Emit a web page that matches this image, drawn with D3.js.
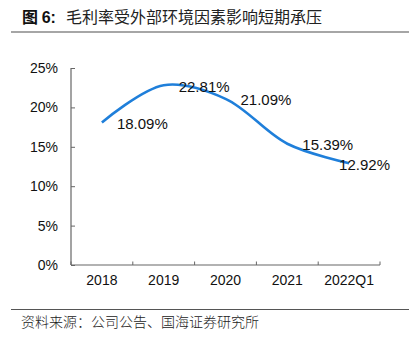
<!DOCTYPE html>
<html>
<head>
<meta charset="utf-8">
<script src="https://cdn.jsdelivr.net/npm/d3@7"></script>
<style>
  html, body { margin: 0; padding: 0; background: #fff; }
  svg { display: block; }
</style>
</head>
<body>
<svg id="chart" width="414" height="341"></svg>
<script>
// Gross margin by period
const periods = ["2018", "2019", "2020", "2021", "2022Q1"];
const grossMargin = [18.09, 22.81, 21.09, 15.39, 12.92];
const yTicks = [0, 5, 10, 15, 20, 25];

const titleTag = "图 6:";
const titleText = "毛利率受外部环境因素影响短期承压";
const sourceText = "资料来源：公司公告、国海证券研究所";

const svg = d3.select("#chart");
const latin = "Arial, 'Liberation Sans', Helvetica, sans-serif";
const cjk = "'Noto Sans CJK SC', sans-serif";

// -- Header and footer -- //
const title = svg.append("text")
  .attr("x", 22)
  .attr("y", 23)
  .attr("font-size", 16)
  .attr("fill", "#111");
title.append("tspan")
  .attr("font-family", cjk)
  .attr("font-weight", "bold")
  .text(titleTag.split(" ")[0] + " ");
title.append("tspan")
  .attr("font-family", latin)
  .attr("font-weight", "bold")
  .text(titleTag.split(" ")[1]);
title.append("tspan")
  .attr("dx", 10)
  .attr("font-family", cjk)
  .attr("fill", "#222")
  .text(titleText);

svg.append("line")
  .attr("x1", 11).attr("x2", 409)
  .attr("y1", 32).attr("y2", 32)
  .attr("stroke", "#888").attr("stroke-width", 1.5);

svg.append("line")
  .attr("x1", 11).attr("x2", 409)
  .attr("y1", 309.5).attr("y2", 309.5)
  .attr("stroke", "#555").attr("stroke-width", 1);

svg.append("text")
  .attr("x", 21)
  .attr("y", 327)
  .attr("font-family", cjk)
  .attr("font-size", 14)
  .attr("font-weight", 300)
  .attr("fill", "#222")
  .text(sourceText);

// -- Scales -- //
const plot = { left: 71, right: 380, top: 68, bottom: 265 };

const x = d3.scaleBand()
  .domain(periods)
  .range([plot.left, plot.right]);

const y = d3.scaleLinear()
  .domain([0, 25])
  .range([plot.bottom, plot.top]);

// -- Axes -- //
const axisColour = "#666";

const yAxis = svg.append("g")
  .attr("transform", `translate(${plot.left},0)`)
  .call(d3.axisLeft(y)
    .tickValues(yTicks)
    .tickSize(-4)
    .tickPadding(13)
    .tickFormat(d => d + "%"));

const xAxis = svg.append("g")
  .attr("transform", `translate(0,${plot.bottom})`)
  .call(d3.axisBottom(x).tickSize(0).tickPadding(10));

// x tick marks sit on the band edges
xAxis.selectAll(".edge")
  .data(periods.map(p => x(p)).concat([plot.right]))
  .join("line")
  .attr("class", "edge")
  .attr("x1", d => d).attr("x2", d => d)
  .attr("y1", 0).attr("y2", -3.5)
  .attr("stroke", axisColour);

[yAxis, xAxis].forEach(g => {
  g.select(".domain").attr("stroke", axisColour).attr("stroke-width", 1.2);
  g.selectAll(".tick line").attr("stroke", axisColour);
  g.selectAll("text")
    .attr("font-family", latin)
    .attr("font-size", 14)
    .attr("fill", "#111");
});
yAxis.select(".domain").attr("d", `M0,${plot.top}V${plot.bottom}`);
xAxis.select(".domain").attr("d", `M${plot.left},0H${plot.right}`);

// -- Smoothed line -- //
const cx = d => x(d) + x.bandwidth() / 2;

const line = d3.line()
  .x((d, i) => cx(periods[i]))
  .y(d => y(d))
  .curve(d3.curveCatmullRom.alpha(0.5));

svg.append("path")
  .datum(grossMargin)
  .attr("d", line)
  .attr("fill", "none")
  .attr("stroke", "#1f7fda")
  .attr("stroke-width", 2.6);

// -- Value labels, right of each point (last one pulled back inside) -- //
function labelDx(i) {
  return i === grossMargin.length - 1 ? -10 : 15;
}

svg.append("g").selectAll("text")
  .data(grossMargin)
  .join("text")
  .attr("x", (d, i) => cx(periods[i]) + labelDx(i))
  .attr("y", d => y(d) + 6.5)
  .attr("font-family", latin)
  .attr("font-size", 15)
  .attr("fill", "#111")
  .text(d => d.toFixed(2) + "%");
</script>
</body>
</html>
